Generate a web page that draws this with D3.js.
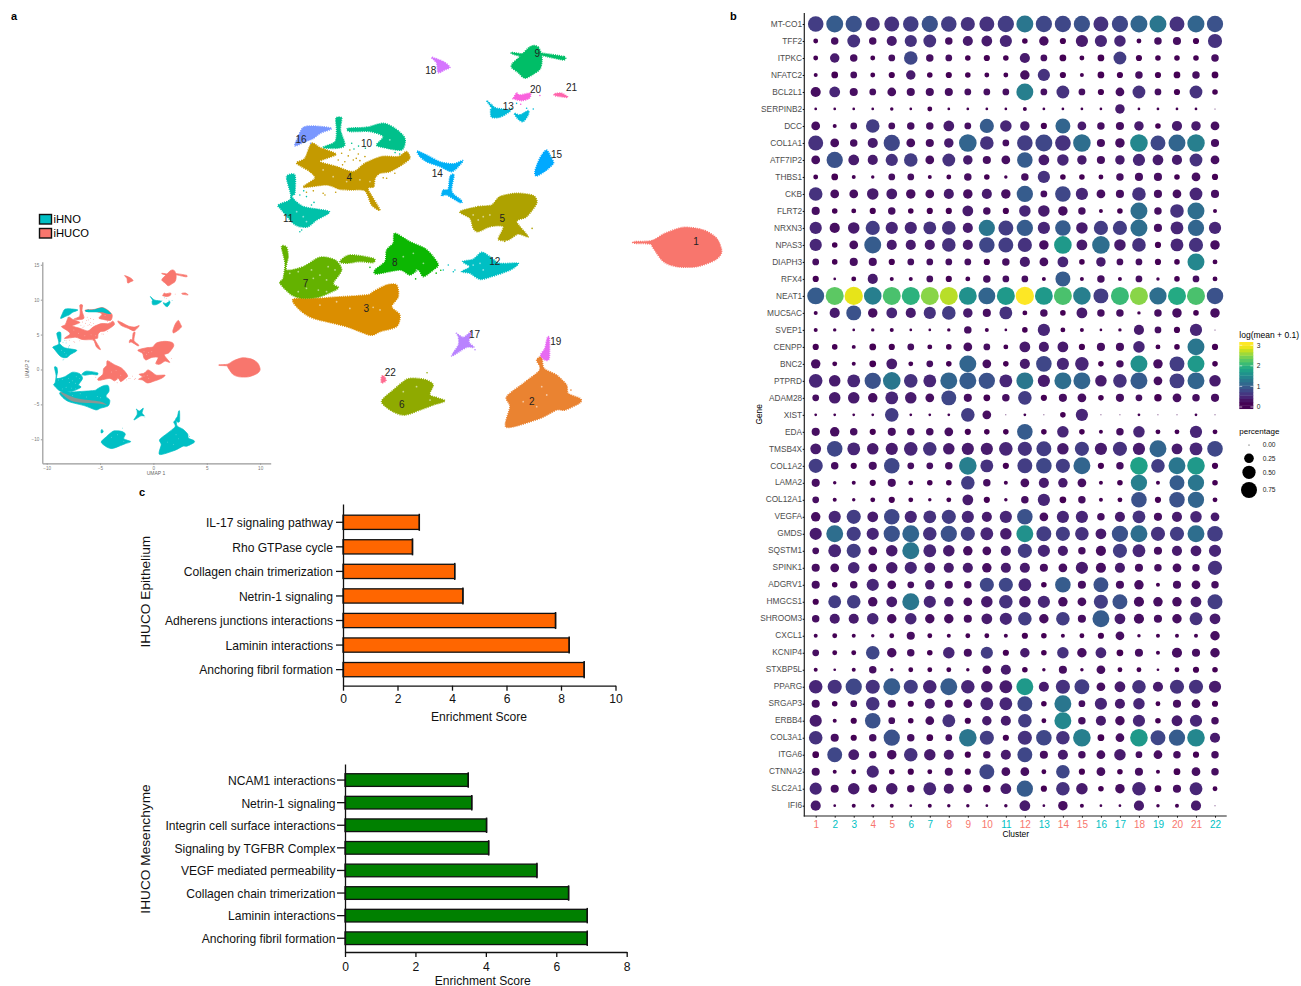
<!DOCTYPE html>
<html>
<head>
<meta charset="utf-8">
<script src="https://cdn.jsdelivr.net/npm/d3@7"></script>
<style>
body { margin: 0; background: #fff; }
text { font-family: "Liberation Sans", Arial, sans-serif; }
</style>
</head>
<body>
<div id="figure"></div>
<script>
// ---- panel b: dot plot ----
const clusters = d3.range(1, 23).map(String);
const genes = ["MT-CO1","TFF2","ITPKC","NFATC2","BCL2L1","SERPINB2","DCC","COL1A1","ATF7IP2","THBS1","CKB","FLRT2","NRXN3","NPAS3","DIAPH3","RFX4","NEAT1","MUC5AC","SVEP1","CENPP","BNC2","PTPRD","ADAM28","XIST","EDA","TMSB4X","COL1A2","LAMA2","COL12A1","VEGFA","GMDS","SQSTM1","SPINK1","ADGRV1","HMGCS1","SHROOM3","CXCL1","KCNIP4","STXBP5L","PPARG","SRGAP3","ERBB4","COL3A1","ITGA6","CTNNA2","SLC2A1","IFI6"];

// percent of cells expressing, one row per gene
const genePercent = [
[71,85,78,58,65,71,78,71,58,65,78,85,78,78,78,65,78,85,85,65,85,78],
[5,14,47,14,28,42,47,14,28,32,42,7,24,9,42,42,37,5,14,17,9,58],
[5,24,14,5,11,53,14,11,7,9,7,28,11,11,5,11,47,9,7,7,7,14],
[3,11,11,5,9,24,7,9,7,5,5,24,42,9,3,11,9,14,9,11,14,11],
[28,32,17,11,20,17,17,17,11,11,11,85,11,47,11,9,20,47,11,9,47,7],
[1,1,1,1,2,1,5,1,1,1,1,3,1,1,1,1,24,1,1,1,1,0],
[20,3,11,53,11,14,14,32,11,58,37,24,9,65,20,14,17,24,7,28,24,20],
[65,20,14,28,78,20,17,24,92,53,11,71,85,71,92,17,24,92,65,85,92,17],
[20,78,32,28,42,53,20,47,24,17,20,71,32,37,24,17,24,42,32,28,47,20],
[5,11,3,2,11,11,3,5,14,7,2,14,42,7,7,5,14,17,17,7,20,9],
[53,20,20,37,32,24,20,28,24,28,24,78,11,71,42,20,17,53,17,20,47,17],
[17,7,5,9,14,7,9,9,32,14,9,37,37,24,14,3,7,85,14,53,85,3],
[42,28,37,58,42,42,47,53,28,78,65,78,42,71,37,58,58,85,17,47,78,42],
[42,7,20,85,28,28,28,53,28,71,65,58,24,92,32,92,37,53,9,47,58,24],
[11,7,17,17,9,11,11,11,11,9,14,28,20,32,7,24,11,11,9,7,85,5],
[9,1,5,28,3,3,11,9,5,14,11,11,3,65,3,14,3,11,2,7,11,5],
[85,97,100,92,97,97,97,97,95,85,97,100,95,97,92,65,97,97,88,97,97,80],
[3,28,65,24,32,28,42,53,24,17,47,5,14,7,32,14,14,2,14,24,7,24],
[3,2,1,2,3,1,1,2,14,3,1,7,42,5,3,1,2,28,11,9,42,0],
[9,7,3,11,9,11,5,7,20,11,5,32,28,32,9,17,17,37,5,7,85,9],
[24,5,3,11,32,5,11,7,85,20,7,28,71,42,53,7,14,85,24,65,85,7],
[53,37,47,78,92,53,47,85,85,78,47,85,42,85,85,37,53,85,20,65,85,37],
[11,37,37,24,47,37,20,65,17,11,14,53,9,17,20,7,17,11,14,20,14,17],
[1,1,1,1,53,1,1,1,53,20,0,1,0,7,42,0,0,1,0,0,1,0],
[17,24,14,9,17,14,14,20,9,7,7,71,7,37,7,3,14,37,5,5,42,5],
[32,71,47,37,42,53,53,37,42,42,53,58,65,37,58,42,58,42,85,32,47,71],
[58,14,9,17,71,11,11,14,92,47,9,65,71,58,85,9,14,92,53,85,92,9],
[17,2,3,9,17,5,7,7,53,14,3,20,28,24,20,3,7,78,3,65,78,7],
[11,3,2,5,9,5,2,5,32,9,2,14,42,11,14,3,5,71,9,71,78,5],
[24,42,58,32,71,42,47,58,42,28,42,71,20,42,42,14,28,47,17,28,37,20],
[42,85,58,42,78,85,53,78,58,47,37,85,65,58,53,32,78,85,58,58,85,71],
[11,47,58,20,37,85,47,37,24,20,28,58,42,28,14,28,58,47,17,28,32,42],
[17,20,37,20,37,42,32,28,28,24,28,28,17,20,42,28,28,17,14,20,14,58],
[17,7,14,42,20,11,24,17,14,58,58,47,7,71,17,65,17,24,3,17,20,14],
[9,47,53,24,32,85,42,24,20,37,53,37,42,24,20,58,65,28,24,24,32,65],
[14,28,28,37,24,37,24,24,17,32,42,53,24,53,17,85,32,28,17,24,47,32],
[3,5,3,2,5,17,5,3,5,5,3,9,7,3,5,9,20,2,3,3,3,24],
[11,5,5,53,24,14,7,37,17,42,9,24,7,37,24,32,11,17,3,28,17,24],
[3,1,3,14,2,5,5,5,2,20,28,7,2,17,2,20,5,5,1,5,9,7],
[53,58,78,58,85,58,53,85,53,37,47,85,28,58,65,20,32,53,28,58,58,42],
[17,7,11,53,17,9,28,17,20,47,47,65,7,85,11,42,28,37,5,17,20,9],
[42,3,9,71,11,7,20,47,9,24,28,53,5,85,14,28,24,42,7,32,42,14],
[53,17,9,14,78,14,11,11,92,58,9,58,71,53,92,11,20,92,65,78,92,28],
[11,65,32,14,24,53,37,28,9,14,28,65,17,28,14,20,37,11,20,14,9,14],
[17,3,5,42,7,9,5,17,9,65,20,20,5,53,9,20,7,17,3,11,20,14],
[42,17,37,20,37,14,47,28,20,14,32,78,9,53,37,7,24,53,11,17,47,5],
[28,1,3,2,3,1,3,2,2,1,2,32,1,24,3,1,1,28,2,3,28,0]
];

// log(mean + 0.1) in tenths, same shape as genePercent
const geneMean = [
[7,10,9,6,6,7,9,7,6,6,7,13,8,8,9,6,8,11,13,6,11,9],
[2,3,6,3,4,6,6,3,4,4,5,2,3,2,4,5,5,2,3,3,2,6],
[2,4,3,2,3,8,3,3,2,2,2,4,3,2,2,2,7,2,2,2,2,3],
[2,2,3,2,2,4,2,2,2,2,2,3,6,2,2,2,2,3,2,2,3,2],
[3,5,3,3,3,3,3,3,3,3,3,14,3,6,3,2,3,6,3,2,6,2],
[1,1,1,1,1,1,2,1,1,1,1,2,1,1,1,1,4,1,1,1,1,1],
[3,2,3,7,3,3,3,4,3,10,5,4,2,11,4,3,3,4,2,4,4,3],
[6,3,3,4,8,3,3,4,11,6,3,7,8,6,12,3,3,15,8,11,14,3],
[3,9,4,4,6,7,3,6,4,3,3,10,4,5,4,3,4,5,4,4,6,3],
[2,2,2,2,3,3,2,2,3,2,2,3,6,2,2,2,3,3,3,2,3,2],
[6,3,3,4,4,3,3,4,3,4,3,10,3,8,5,3,3,6,3,3,5,3],
[3,2,2,2,3,2,2,2,4,3,2,5,4,3,3,2,2,12,3,6,12,2],
[5,3,4,7,5,5,6,6,4,13,7,10,5,10,4,7,7,12,3,5,11,5],
[5,2,3,10,4,4,4,6,4,8,7,6,3,17,4,12,4,6,2,5,6,3],
[3,2,3,3,2,3,3,3,3,2,3,4,3,5,2,4,3,3,2,2,15,2],
[2,1,2,4,2,2,3,2,2,3,3,3,2,10,2,3,2,3,2,2,3,2],
[10,23,29,14,22,20,25,27,16,11,17,30,17,22,14,7,21,25,12,19,22,9],
[2,4,9,3,5,4,6,7,4,3,6,2,3,2,4,3,3,2,3,3,2,3],
[2,2,1,2,2,1,1,1,3,2,1,2,5,2,2,1,2,4,3,2,5,1],
[2,2,2,2,2,3,2,2,3,3,2,4,4,4,2,3,3,5,2,2,13,2],
[3,2,2,2,4,2,3,2,11,3,2,4,8,5,5,2,3,16,3,7,17,2],
[5,4,5,9,13,6,5,11,10,9,5,13,4,12,11,4,6,10,3,7,11,4],
[3,4,4,3,5,4,3,8,3,2,3,7,2,3,3,2,3,3,2,3,3,3],
[1,1,1,1,7,1,1,1,7,3,1,1,1,2,5,1,1,1,1,1,1,1],
[3,3,3,2,3,3,3,3,2,2,2,10,2,5,2,2,3,5,2,2,5,2],
[4,8,5,4,4,5,6,4,4,4,5,6,7,4,7,4,6,4,11,4,5,8],
[7,3,2,3,8,3,3,3,14,6,2,7,8,7,11,2,3,18,7,13,17,2],
[3,2,2,2,3,2,2,2,7,3,2,3,4,4,3,2,2,14,2,10,13,2],
[3,2,2,2,2,2,2,2,4,2,2,3,5,2,3,2,2,9,2,9,11,2],
[3,5,7,4,8,5,6,7,5,4,5,9,3,5,5,3,4,6,3,4,5,4],
[4,12,7,5,9,11,6,9,7,5,4,16,7,7,6,4,9,12,6,7,12,7],
[3,5,7,3,4,13,5,4,3,3,4,7,5,4,3,3,7,5,3,4,4,5],
[3,3,5,3,4,5,4,4,4,3,4,4,3,3,4,3,4,3,3,3,3,6],
[3,2,3,5,3,3,4,3,3,8,8,5,2,10,3,9,3,3,2,3,3,3],
[2,7,7,3,4,13,5,4,3,4,6,4,5,3,3,7,9,3,3,3,4,7],
[3,4,4,5,3,5,3,3,3,4,5,7,3,7,3,10,4,3,3,3,6,4],
[2,2,2,2,2,3,2,2,2,2,2,2,2,2,2,2,3,2,2,2,2,3],
[3,2,2,8,3,3,2,5,3,7,2,4,2,6,3,5,2,3,2,3,3,3],
[2,1,2,3,2,2,2,2,1,3,4,2,2,3,2,3,2,2,1,2,2,2],
[5,6,8,6,10,7,5,10,5,4,4,17,4,6,7,3,4,6,4,6,6,4],
[3,2,3,6,3,2,4,3,3,5,5,8,2,13,3,5,4,5,2,3,3,2],
[4,2,2,9,3,2,3,6,2,4,4,7,2,15,3,4,3,5,2,4,5,3],
[6,3,2,3,9,3,2,3,13,7,2,6,8,6,14,2,3,17,8,10,15,4],
[2,8,4,3,3,6,4,4,2,3,4,8,3,4,3,3,4,3,3,3,2,3],
[3,2,2,5,2,2,2,3,2,8,3,3,2,8,2,3,2,3,2,2,3,3],
[5,3,4,3,4,3,5,4,3,2,4,10,2,6,4,2,3,5,2,3,5,2],
[4,1,2,2,2,1,2,2,2,1,2,4,1,3,2,1,1,4,2,2,4,1]
];

const meanTicks = [0, 1, 2, 3];
const percentTicks = [0, 0.25, 0.5, 0.75];
const percentKeyY = [445, 458.3, 472.3, 490];

// ---- panel a: UMAP ----
const samples = ["iHNO", "iHUCO"];
const sampleColors = ["#00BFC4", "#F8766D"];
// sample each cluster belongs to (0 iHNO, 1 iHUCO); also colours the cluster ticks of panel b
const clusterSample = [1,0,0,1,1,0,0,1,1,1,0,1,0,1,1,0,0,1,0,1,1,0];
const clusterColors = ["#F8766D","#EA8331","#DB8E00","#C49A00","#AEA200","#8FAA00","#64B200","#0CB702","#00BE67","#00C08B","#00C1A9","#00BFC4","#00BBDA","#00B0F6","#00A9FF","#7997FF","#B983FF","#D575FE","#E76BF3","#F962DD","#FF65AC","#FF6C91"];
const clusterLabelAt = [[8.88,.66],[1.68,-10.36],[-5.56,-3.96],[-6.31,5.14],[.39,2.27],[-4.01,-10.63],[-8.22,-2.25],[-4.31,-.73],[1.93,13.68],[-5.55,7.47],[-8.98,2.27],[.07,-.66],[.66,10.03],[-2.45,5.37],[2.77,6.69],[-8.42,7.77],[-.82,-5.78],[-2.74,12.5],[2.74,-6.2],[1.85,11.24],[3.43,11.35],[-4.51,-8.35]];

// outlines of the point clouds, UMAP units: [cluster, [[u, v], ...]]
const clusterOutlines = [
[1,[[6.16,.68],[6.94,.75],[7.52,1.26],[8.32,1.67],[9.2,1.49],[9.78,.91],[10,-.01],[9.71,-.59],[8.91,-1.05],[8.03,-1.05],[7.45,-.7],[7.01,.22],[6.86,.52],[6.2,.57]]],
[2,[[1.9,-7.52],[2.12,-7.29],[2.22,-8.09],[2.77,-8.56],[3.21,-9.25],[3.28,-9.83],[3.8,-10.18],[3.8,-10.48],[3.14,-10.98],[2.77,-10.98],[2.04,-11.56],[.58,-12.18],[.73,-10.75],[.58,-10.06],[1.31,-9.14],[1.97,-8.33],[2.04,-7.98]]],
[3,[[-8.76,-3.31],[-7.59,-3.24],[-7.01,-3.17],[-5.55,-3.01],[-5.26,-2.78],[-4.67,-2.32],[-4.23,-2.32],[-4.16,-3.13],[-4.45,-3.82],[-4.09,-4.4],[-4.23,-5.2],[-4.96,-5.55],[-5.4,-5.79],[-6.42,-5.21],[-7.88,-4.63],[-8.47,-4.05]]],
[4,[[-8.61,6.15],[-8.25,6.45],[-7.96,7.49],[-7.59,7.2],[-6.89,6.75],[-7.3,6.45],[-7.59,6.22],[-6.86,5.88],[-6.13,5.53],[-5.62,6.11],[-4.89,6.57],[-4.16,6.57],[-3.8,6.92],[-3.65,6.45],[-4.01,5.99],[-4.53,5.53],[-4.96,5.42],[-5.18,5.07],[-5.23,4.49],[-5.48,4.31],[-4.96,2.88],[-5.33,3.22],[-5.62,4.2],[-6.28,4.26],[-6.72,4.31],[-7.3,4.61],[-8.32,4.45],[-7.81,5.07],[-8.03,5.53],[-8.4,5.88]]],
[5,[[-1.46,2.76],[-.66,3.11],[-.07,3.22],[.29,3.8],[1.02,4.03],[1.75,3.87],[1.9,3.34],[1.46,2.41],[1.02,2.07],[1.53,1.03],[1.09,1.21],[.66,.8],[.22,.84],[.44,1.72],[-.15,1.72],[-.66,1.37],[-.88,1.61],[-1.02,2.3]]],
[6,[[-4.89,-10.4],[-4.38,-9.6],[-3.8,-8.86],[-3.36,-8.79],[-2.92,-8.9],[-2.63,-9.25],[-2.77,-9.94],[-2.12,-10.33],[-2.63,-10.63],[-3.21,-10.98],[-3.87,-11.33],[-4.38,-11.1]]],
[7,[[-9.27,.33],[-9.05,.29],[-8.98,-.36],[-9.05,-1.28],[-8.32,-1.05],[-7.59,-.4],[-6.93,-.59],[-6.64,-1.28],[-7.01,-2.2],[-6.79,-2.55],[-7.59,-3.13],[-8.32,-3.24],[-8.83,-3.01],[-9.34,-2.2],[-9.2,-1.86],[-9.12,-.82]]],
[7,[[-6.72,-.7],[-6.28,-.24],[-5.26,-.47],[-5.26,-.77],[-5.84,-.7],[-6.42,-.82]]],
[8,[[-4.31,1.26],[-3.65,.68],[-3,.22],[-2.63,-.36],[-2.41,-.94],[-2.63,-1.28],[-3.06,-1.74],[-3.28,-1.28],[-3.65,-1.63],[-4.09,-1.28],[-5.11,-1.56],[-5.18,-1.28],[-4.74,-.7],[-4.67,.1],[-4.38,.57]]],
[9,[[1.75,14.26],[1.97,14.15],[2.12,13.62],[2.12,13.04],[2.04,12.62],[1.82,12.35],[1.39,12],[1.09,12.39],[.8,12.76],[.85,13.04],[1.09,13.38],[1.28,13.68],[1.53,14.08]]],
[9,[[2.12,13.73],[3.09,13.5],[3.06,13.27],[2.12,13.59]]],
[9,[[.8,13.78],[1.46,13.62],[1.31,13.5],[.88,13.66]]],
[10,[[-6.89,9.23],[-6.64,9.23],[-6.69,8.42],[-6.5,7.38],[-6.86,7.15],[-7.45,7.21],[-6.93,7.6],[-6.86,8.42]]],
[10,[[-6.35,8.53],[-5.55,8.6],[-4.82,8.88],[-4.31,8.53],[-3.87,7.84],[-4.01,7.03],[-4.82,7.21],[-5.11,7.38],[-4.82,7.96],[-5.4,8.31],[-6.28,8.31]]],
[11,[[-9.05,5.18],[-8.69,5.3],[-8.69,4.03],[-8.83,3.8],[-8.32,3.11],[-7.18,2.76],[-7.74,2.18],[-8.1,1.72],[-8.47,1.72],[-8.76,1.95],[-9.27,2.88],[-9.42,3.22],[-8.91,3.57],[-8.88,4.03]]],
[12,[[-1.34,-.7],[-.88,-.54],[-.51,-.06],[-.15,-.36],[.29,-.82],[1.09,-.82],[.73,-1.29],[-.07,-1.74],[-.58,-1.93],[-1.02,-1.51],[-1.39,-1.4],[-1.02,-1.06]]],
[13,[[-.29,10.45],[-.07,10.15],[.15,9.92],[.73,9.8],[.66,9.62],[.29,9.3],[-.07,9.3],[-.12,9.8],[-.07,9.92]]],
[13,[[.92,9.57],[1.17,9.46],[1.53,9.76],[1.53,9.46],[1.31,9],[1.09,9.16]]],
[14,[[-3.33,6.96],[-2.92,6.68],[-2.34,6.22],[-1.75,6.07],[-1.34,6.3],[-1.46,6],[-1.82,5.53],[-2.34,5.88],[-2.92,6.22],[-3.21,6.57]]],
[14,[[-1.72,5.3],[-1.82,4.15],[-1.39,3.53],[-1.46,3.39],[-2.04,3.91],[-2.26,3.85],[-2.19,4.26],[-1.97,4.31],[-1.9,5.18]]],
[15,[[2.34,7.03],[2.55,6.45],[2.63,6.11],[2.34,5.65],[1.9,5.23],[1.82,5.53],[1.97,6.22],[2.12,6.68]]],
[16,[[-8.32,8.6],[-7.88,8.69],[-7.08,8.53],[-7.59,8.18],[-7.88,7.83],[-8.25,7.6],[-8.69,7.31],[-8.54,7.96]]],
[17,[[-1.61,-5.67],[-1.31,-5.95],[-.95,-5.55],[-1.07,-6.25],[-.85,-6.64],[-1.17,-6.64],[-1.82,-7.24],[-1.53,-6.48],[-1.53,-5.9]]],
[18,[[-2.7,13.45],[-2.19,13.15],[-1.9,12.76],[-2.12,12.58],[-2.41,12.39],[-2.48,13.04]]],
[19,[[2.36,-6],[2.45,-6],[2.45,-7.4],[2.26,-7.52],[2.07,-7.17],[2.26,-6.71]]],
[20,[[.88,10.61],[1.02,10.96],[1.17,10.84],[1.61,10.96],[1.58,10.61],[1.24,10.45],[.88,10.57]]],
[21,[[2.67,10.91],[2.99,10.96],[3.26,10.68],[2.92,10.73],[2.7,10.8]]],
[22,[[-4.89,-8.67],[-4.79,-8.62],[-4.7,-8.95],[-4.89,-9.09]]]
];
// loose cells lying outside the outlines: [cluster, u, v]
const strayCells = [
[4,-6.64,6.8],[4,-6.35,6.62],[4,-6.13,6.34],[4,-5.91,6.75],[4,-5.84,6.29],[4,-6.5,6.22],[4,-6.79,6.34],[4,-6.28,7.03],[4,-5.62,6.57],[4,-7.45,4.03],[4,-7.88,4.2],[4,-7.37,3.91],[4,-8.18,4.1],[4,-4.82,5.1],[4,-4.31,5.42],[4,-4.67,5.07],[4,-6.9,4.1],[4,-6.6,6],[4,-6,6.45],
[10,-6.2,7.5],[10,-5.9,7.3],[10,-6.1,7.1],[10,-5.6,7.15],[10,-4.1,6.75],[10,-4.3,6.85],
[11,-8.47,3.91],[11,-8.18,3.8],[11,-7.96,3.22],[11,-7.85,3.4],[11,-8.39,1.49],[11,-8.47,1.37],[11,-8.3,4.2],
[12,-2.19,-1.28],[12,-1.97,-.94],[12,-1.75,-1.4],[12,-1.68,-1.28],
[8,-2.3,-1.3],[8,-2.5,-1.5],[8,-3.4,-1.9],[8,-5.4,-1.1],
[13,1.75,9.87],[13,1.46,9.92],[13,1.02,10.26],[13,.8,9.9],
[20,2.04,10.8],[20,1.2,10.2],
[6,-2.9,-8.4],[6,-2.5,-10.1],[2,3.4,-9.6],[2,3.1,-10.9],[5,1.7,1.6],[5,.5,.7],[16,-8,7.5],[17,-.8,-6.8]
];
// pale gaps inside the clouds: [u, v]
const cloudGaps = [
[-8.91,-1.51],[-8.54,-1.4],[-7.88,-1.86],[-7.59,-1.63],[-7.3,-1.97],[-7.23,-1.05],[-8.18,-2.55],[-8.54,-2.78],[-7.66,-2.67],[-7.3,-2.78],[-7.96,-1.28],[-6.93,-1.28],
[-6.28,-3.94],[-5.26,-3.87],[-7.59,-3.71],[-6.86,-3.48],[-4.96,-4.05],
[2.34,-9.94],[1.31,-10.4],[1.9,-10.75],[2.12,-9.36],
[-3.5,-.13],[-3.06,-.82],[-3.36,-1.28],[-3.94,-.36],
[-.58,-.82],[-.44,-1.28],[-.88,-.94],
[-.66,2.18],[-.44,2.41],[-.15,2.53],[-.88,2.53],
[-3.94,-9.71],[-2.77,-10.29],[-3.36,-9.36],
[-8.61,2.76],[-8.32,2.41],[-8.18,2.07],
[-6.42,4.84],[-7.01,5.18],[-5.84,4.96],[-5.4,4.84],[-7.45,5.65],
[-4.96,7.96],[-4.53,7.73]
];
// places where the other sample lies on top in the small map: [sample, [[u, v], ...]]
const sampleOverlays = [
[0,[[-6.35,8.53],[-5.55,8.6],[-4.82,8.88],[-4.31,8.53],[-3.95,8],[-4.3,8],[-4.82,8.2],[-5.4,8.2],[-6.28,8.25]]],
[1,[[-8.75,-3.18],[-7.19,-4.13],[-5,-4.6],[-4.38,-5.09],[-5,-4.9],[-7.5,-4.6]]]
];
const umapTicksX = [-10, -5, 0, 5, 10];
const umapTicksY = [-10, -5, 0, 5, 10, 15];

// ---- panel c: enrichment bars ----
const epitheliumTerms = ["IL-17 signaling pathway","Rho GTPase cycle","Collagen chain trimerization","Netrin-1 signaling","Adherens junctions interactions","Laminin interactions","Anchoring fibril formation"];
const epitheliumScores = [2.8,2.55,4.1,4.4,7.8,8.3,8.85];
const mesenchymeTerms = ["NCAM1 interactions","Netrin-1 signaling","Integrin cell surface interactions","Signaling by TGFBR Complex","VEGF mediated permeability","Collagen chain trimerization","Laminin interactions","Anchoring fibril formation"];
const mesenchymeScores = [3.5,3.6,4.02,4.08,5.45,6.35,6.88,6.88];

const svg = d3.select("#figure").append("svg")
    .attr("width", 1301)
    .attr("height", 986);

const panelLetter = (t, x, y) => svg.append("text")
    .attr("x", x).attr("y", y)
    .attr("font-size", 11).attr("font-weight", "bold")
    .text(t);
panelLetter("a", 11, 20);
panelLetter("b", 730, 20);
panelLetter("c", 139, 496);

// ---------- UMAP ----------
const outlinePath = (x, y) => d3.line()
    .x(d => x(d[0]))
    .y(d => y(d[1]))
    .curve(d3.curveCardinalClosed.tension(0.2));

function drawCells(x, y, fillOf, edge, strayR, gapR) {
    const path = outlinePath(x, y);
    const g = svg.append("g");
    g.selectAll("path")
        .data(clusterOutlines)
        .join("path")
        .attr("d", d => path(d[1]))
        .attr("fill", d => fillOf(d[0]))
        .attr("stroke", d => fillOf(d[0]))
        .attr("stroke-width", edge)
        .attr("stroke-dasharray", edge > 1 ? "1 1.1" : null);
    g.selectAll("circle.stray")
        .data(strayCells)
        .join("circle")
        .attr("class", "stray")
        .attr("cx", d => x(d[1]))
        .attr("cy", d => y(d[2]))
        .attr("r", strayR)
        .attr("fill", d => fillOf(d[0]));
    g.selectAll("circle.gap")
        .data(cloudGaps)
        .join("circle")
        .attr("class", "gap")
        .attr("cx", d => x(d[0]))
        .attr("cy", d => y(d[1]))
        .attr("r", gapR)
        .attr("fill", "#fff")
        .attr("opacity", 0.55);
    return path;
}

const bigX = d3.scaleLinear().domain([-10, 10.5]).range([264.9, 733.1]);
const bigY = d3.scaleLinear().domain([-13, 15]).range([439.2, 34.9]);
drawCells(bigX, bigY, c => clusterColors[c - 1], 1.6, 0.8, 0.9);

svg.append("g").selectAll("text")
    .data(clusterLabelAt)
    .join("text")
    .attr("x", d => bigX(d[0]))
    .attr("y", d => bigY(d[1]) + 3.5)
    .attr("text-anchor", "middle")
    .attr("font-size", 10)
    .attr("fill", "#222")
    .text((d, i) => i + 1);

const smallX = d3.scaleLinear().domain([-10.41, 10.99]).range([42.3, 270.7]);
const smallY = d3.scaleLinear().domain([-13.44, 15.44]).range([463.3, 261.7]);
const smallPath = drawCells(smallX, smallY, c => sampleColors[clusterSample[c - 1]], 0.7, 0.4, 0.45);

svg.append("g").selectAll("path")
    .data(sampleOverlays)
    .join("path")
    .attr("d", d => smallPath(d[1]))
    .attr("fill", d => sampleColors[d[0]])
    .attr("opacity", d => d[0] === 1 ? 0.55 : 1);

const styleSmallAxis = g => {
    g.selectAll("path,line").attr("stroke", "#999");
    g.select("path").attr("stroke-width", 1.2);
    g.selectAll("text").attr("font-size", 4.6).attr("fill", "#777");
};
svg.append("g")
    .attr("transform", "translate(0,463.3)")
    .call(d3.axisBottom(smallX).tickValues(umapTicksX).tickSize(1.5).tickPadding(1.5).tickSizeOuter(0))
    .call(styleSmallAxis);
svg.append("g")
    .attr("transform", "translate(42.3,0)")
    .call(d3.axisLeft(smallY).tickValues(umapTicksY).tickSize(1.5).tickPadding(1.5).tickSizeOuter(0))
    .call(styleSmallAxis);
svg.append("text").attr("x", 156).attr("y", 475)
    .attr("text-anchor", "middle").attr("font-size", 5).attr("fill", "#666").text("UMAP 1");
svg.append("text").attr("transform", "translate(29,369) rotate(-90)")
    .attr("text-anchor", "middle").attr("font-size", 5).attr("fill", "#666").text("UMAP 2");

const sampleKey = svg.append("g").selectAll("g")
    .data(samples)
    .join("g")
    .attr("transform", (d, i) => `translate(39.5,${214.5 + i * 14})`);
sampleKey.append("rect")
    .attr("width", 12).attr("height", 9.5)
    .attr("fill", (d, i) => sampleColors[i])
    .attr("stroke", "#111").attr("stroke-width", 1.4);
sampleKey.append("text")
    .attr("x", 14).attr("y", 8.4)
    .attr("font-size", 11.2)
    .text(d => d);

// ---------- dot plot ----------
const dotX = d3.scalePoint().domain(clusters).range([815.7, 1215]);
const dotY = d3.scalePoint().domain(genes).range([24, 805.7]);
const dotSize = p => (1 + 17.3 * Math.sqrt(p)) / 2;
const meanColor = d3.scaleSequential(d3.interpolateViridis).domain([0.2, 3]).clamp(true);

const dots = [];
genes.forEach((g, r) => clusters.forEach((c, k) => {
    dots.push({ gene: g, cluster: c, pct: genePercent[r][k] / 100, mean: geneMean[r][k] / 10 });
}));

svg.append("g").selectAll("circle")
    .data(dots)
    .join("circle")
    .attr("cx", d => dotX(d.cluster))
    .attr("cy", d => dotY(d.gene))
    .attr("r", d => dotSize(d.pct))
    .attr("fill", d => meanColor(d.mean));

const dotLeft = svg.append("g")
    .attr("transform", "translate(804.3,0)")
    .call(d3.axisLeft(dotY).tickSize(1.6).tickPadding(0.6));
dotLeft.select("path").remove();
dotLeft.selectAll("text").attr("font-size", 8.3).attr("fill", "#4d4d4d").attr("dy", "0.26em");
svg.append("line").attr("x1", 804.3).attr("x2", 804.3).attr("y1", 13).attr("y2", 816.6)
    .attr("stroke", "#222").attr("stroke-width", 1.2);

const dotBottom = svg.append("g")
    .attr("transform", "translate(0,816)")
    .call(d3.axisBottom(dotX).tickSize(1.6).tickPadding(3.6));
dotBottom.select("path").remove();
dotBottom.selectAll("text")
    .attr("font-size", 10)
    .attr("fill", (d, i) => sampleColors[clusterSample[i]]);
svg.append("line").attr("x1", 803.7).attr("x2", 1226.7).attr("y1", 816).attr("y2", 816)
    .attr("stroke", "#222").attr("stroke-width", 1.2);

svg.append("text").attr("x", 1015.7).attr("y", 837.4)
    .attr("text-anchor", "middle").attr("font-size", 8.4).text("Cluster");
svg.append("text").attr("transform", "translate(762,414.3) rotate(-90)")
    .attr("text-anchor", "middle").attr("font-size", 8.4).text("Gene");

// colour legend
const legendY = d3.scaleLinear().domain([0, 3]).range([407, 345.3]);
svg.append("text").attr("x", 1239.3).attr("y", 338)
    .attr("font-size", 8.5).text("log(mean + 0.1)");
const barSteps = d3.range(-0.08, 3.16, 0.162);
svg.append("g").selectAll("rect")
    .data(barSteps)
    .join("rect")
    .attr("x", 1239.3)
    .attr("y", d => legendY(d + 0.162))
    .attr("width", 14)
    .attr("height", legendY(0) - legendY(0.162) + 0.4)
    .attr("fill", d => meanColor(d + 0.08));
const barTicks = svg.append("g").selectAll("g")
    .data(meanTicks)
    .join("g")
    .attr("transform", d => `translate(0,${legendY(d)})`);
barTicks.append("line").attr("x1", 1239.3).attr("x2", 1242.2).attr("stroke", "#fff").attr("stroke-width", 0.6);
barTicks.append("line").attr("x1", 1250.4).attr("x2", 1253.3).attr("stroke", "#fff").attr("stroke-width", 0.6);
barTicks.append("text").attr("x", 1256.7).attr("y", 2.2).attr("font-size", 6.6).attr("fill", "#222").text(d => d);

// size legend
svg.append("text").attr("x", 1239.3).attr("y", 433.5)
    .attr("font-size", 8).text("percentage");
const sizeKey = svg.append("g").selectAll("g")
    .data(percentTicks)
    .join("g")
    .attr("transform", (d, i) => `translate(0,${percentKeyY[i]})`);
sizeKey.append("circle").attr("cx", 1249).attr("r", d => dotSize(d)).attr("fill", "#000");
sizeKey.append("text").attr("x", 1262.7).attr("y", 2.2).attr("font-size", 6.6).attr("fill", "#222")
    .text(d => d.toFixed(2));

// ---------- enrichment bars ----------
function enrichmentBars(o) {
    const x = d3.scaleLinear().domain(o.domain).range(o.xRange);
    const y = d3.scaleBand().domain(o.terms).range(o.yRange)
        .paddingInner(o.inner).paddingOuter(o.outer).align(o.align);
    const g = svg.append("g");

    g.selectAll("rect")
        .data(o.terms)
        .join("rect")
        .attr("x", x(0))
        .attr("y", d => y(d))
        .attr("width", (d, i) => x(o.scores[i]) - x(0))
        .attr("height", y.bandwidth())
        .attr("fill", o.color)
        .attr("stroke", "#111")
        .attr("stroke-width", 1.3);
    g.selectAll("line.cap")
        .data(o.terms)
        .join("line")
        .attr("class", "cap")
        .attr("x1", (d, i) => x(o.scores[i]))
        .attr("x2", (d, i) => x(o.scores[i]))
        .attr("y1", d => y(d) - 1.4)
        .attr("y2", d => y(d) + y.bandwidth() + 1.4)
        .attr("stroke", "#111")
        .attr("stroke-width", 1.5);

    const left = g.append("g")
        .attr("transform", `translate(${o.xRange[0]},0)`)
        .call(d3.axisLeft(y).tickSize(o.tick).tickPadding(o.pad).tickSizeOuter(0));
    left.selectAll("path,line").attr("stroke", "#111").attr("stroke-width", 1.3);
    left.selectAll("text").attr("font-size", 12.1).attr("fill", "#111").attr("dy", "0.4em");

    const bottom = g.append("g")
        .attr("transform", `translate(0,${o.yRange[1]})`)
        .call(d3.axisBottom(x).ticks(o.ticks).tickSize(5).tickPadding(o.xPad).tickSizeOuter(0));
    bottom.selectAll("path,line").attr("stroke", "#111").attr("stroke-width", 1.3);
    bottom.selectAll("text").attr("font-size", 12.1).attr("fill", "#111");

    g.append("text").attr("x", o.xTitle[0]).attr("y", o.xTitle[1])
        .attr("text-anchor", "middle").attr("font-size", 12.1).attr("fill", "#111")
        .text("Enrichment Score");
    g.append("text").attr("transform", `translate(${o.yTitle[0]},${o.yTitle[1]}) rotate(-90)`)
        .attr("text-anchor", "middle").attr("font-size", 13.7).attr("fill", "#111")
        .text(o.title);
}

enrichmentBars({
    terms: epitheliumTerms, scores: epitheliumScores, color: "#FF6600",
    domain: [0, 10], ticks: 5,
    xRange: [343, 615.5], yRange: [504, 685.7],
    inner: 0.42, outer: 0.41, align: 0.555, tick: 7, pad: 3, xPad: 4,
    xTitle: [479, 720.7], yTitle: [150, 591.7], title: "IHUCO Epithelium"
});
enrichmentBars({
    terms: mesenchymeTerms, scores: mesenchymeScores, color: "#008000",
    domain: [0, 8], ticks: 4,
    xRange: [345, 626.7], yRange: [764, 952],
    inner: 0.44, outer: 0.38, align: 0.567, tick: 8, pad: 1.5, xPad: 5,
    xTitle: [482.7, 984.5], yTitle: [150, 849], title: "IHUCO Mesenchyme"
});
</script>
</body>
</html>
